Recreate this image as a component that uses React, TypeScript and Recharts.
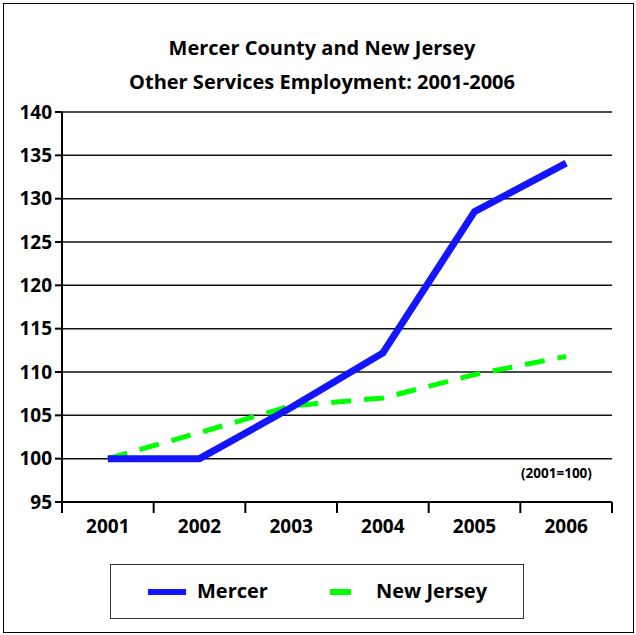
import React from 'react';
import { LineChart, Line, XAxis, YAxis, CartesianGrid } from 'recharts';

// Index values, 2001 = 100
const years = ['2001', '2002', '2003', '2004', '2005', '2006'];
const mercer = [100, 100, 105.9, 112.2, 128.5, 134.1];
const newJersey = [100, 103, 106.1, 107.0, 109.7, 111.8];
const yTicks = [95, 100, 105, 110, 115, 120, 125, 130, 135, 140];
const boundaryTicks = [0, 1, 2, 3, 4, 5, 6];
const centerTicks = [0.5, 1.5, 2.5, 3.5, 4.5, 5.5];

const FONT = '"Open Sans", "DejaVu Sans", sans-serif';

const data = years.map((year, i) => ({
  pos: i + 0.5,
  year,
  mercer: mercer[i],
  newJersey: newJersey[i],
}));

const tickStyle = { fontFamily: FONT, fontSize: 19, fontWeight: 700, fill: '#000' };

// boundary axis only shows tick marks, no labels
const NoLabel = () => <g />;

export default function App() {
  return (
    <div
      style={{
        position: 'absolute',
        left: 0,
        top: 0,
        width: 636,
        height: 635,
        background: '#fff',
        fontFamily: FONT,
      }}
    >
      {/* outer frame */}
      <div
        style={{
          position: 'absolute',
          left: 3,
          top: 3,
          width: 629,
          height: 628,
          border: '1px solid #000',
        }}
      />

      <div
        style={{
          position: 'absolute',
          left: 0,
          top: 31,
          width: 644,
          textAlign: 'center',
          fontSize: 20,
          fontWeight: 700,
          lineHeight: '34px',
          color: '#000',
        }}
      >
        <div>Mercer County and New Jersey</div>
        <div>Other Services Employment: 2001-2006</div>
      </div>

      <div style={{ position: 'absolute', left: 0, top: 0 }}>
        <LineChart width={636} height={635} data={data} margin={{ top: 112, right: 24, left: 7, bottom: 93 }}>
          <CartesianGrid xAxisId="years" yAxisId="left" vertical={false} stroke="#111" strokeWidth={1.5} />
          <XAxis
            xAxisId="bounds"
            type="number"
            dataKey="pos"
            domain={[0, 6]}
            allowDataOverflow
            ticks={boundaryTicks}
            interval={0}
            tick={NoLabel}
            tickSize={11}
            height={1}
            stroke="#000"
            strokeWidth={2}
          />
          <XAxis
            xAxisId="years"
            type="number"
            dataKey="pos"
            domain={[0, 6]}
            allowDataOverflow
            ticks={centerTicks}
            interval={0}
            tickFormatter={(v: number) => years[Math.floor(v)]}
            axisLine={false}
            tickLine={false}
            tickSize={11}
            tickMargin={6}
            height={39}
            tick={tickStyle}
          />
          <YAxis
            yAxisId="left"
            domain={[95, 140]}
            ticks={yTicks}
            interval={0}
            width={55}
            tickSize={7}
            tickMargin={3}
            stroke="#000"
            strokeWidth={2}
            tick={tickStyle}
          />
          <YAxis
            yAxisId="right"
            orientation="right"
            domain={[95, 140]}
            ticks={yTicks}
            tick={false}
            tickLine={false}
            width={0}
            stroke="#000"
            strokeWidth={1.5}
          />
          <Line
            xAxisId="years"
            yAxisId="left"
            dataKey="newJersey"
            name="New Jersey"
            type="linear"
            stroke="#00ff00"
            strokeWidth={5}
            strokeDasharray="20 13"
            dot={false}
            isAnimationActive={false}
          />
          <Line
            xAxisId="years"
            yAxisId="left"
            dataKey="mercer"
            name="Mercer"
            type="linear"
            stroke="#1414ff"
            strokeWidth={7}
            dot={false}
            isAnimationActive={false}
          />
        </LineChart>
      </div>

      <div
        style={{
          position: 'absolute',
          left: 521,
          top: 464,
          fontSize: 13.5,
          fontWeight: 700,
          color: '#000',
        }}
      >
        (2001=100)
      </div>

      {/* legend */}
      <div
        style={{
          position: 'absolute',
          left: 110,
          top: 564,
          width: 412,
          height: 53,
          border: '1.5px solid #333',
        }}
      >
        <div style={{ position: 'absolute', left: 37, top: 24, width: 38, height: 6, background: '#1414ff' }} />
        <div style={{ position: 'absolute', left: 86, top: 12, fontSize: 20, fontWeight: 700, lineHeight: '28px' }}>
          Mercer
        </div>
        <div style={{ position: 'absolute', left: 219, top: 24, width: 21, height: 6, background: '#00ff00' }} />
        <div style={{ position: 'absolute', left: 265, top: 12, fontSize: 20, fontWeight: 700, lineHeight: '28px' }}>
          New Jersey
        </div>
      </div>
    </div>
  );
}
